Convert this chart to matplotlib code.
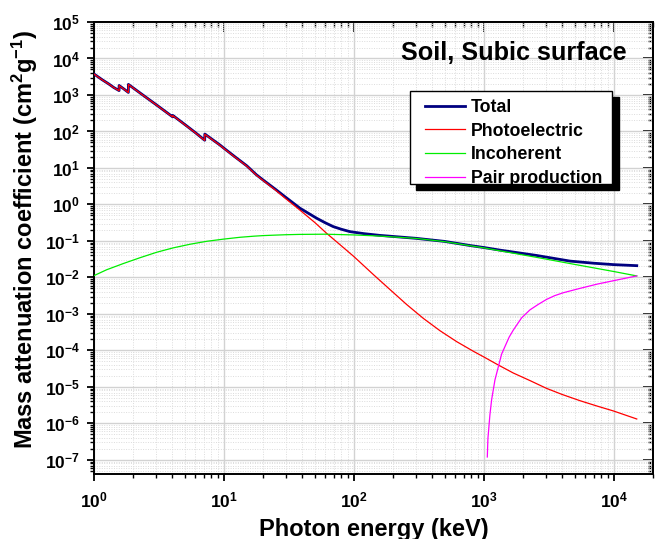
import numpy as np
import matplotlib
matplotlib.use('Agg')
import matplotlib.pyplot as plt
from matplotlib.patches import Rectangle
from matplotlib.ticker import LogLocator, NullFormatter

# ---------------- data ----------------
energy_total = [1.0, 1.15, 1.30, 1.42, 1.559, 1.560, 1.70, 1.838, 1.839, 2.2, 2.6, 3.0,
                3.5, 4.03, 4.04, 5.0, 6.0, 7.11, 7.12, 8.0, 9.3, 10, 12, 15, 17.8, 20,
                25, 30, 38.4, 51.6, 60, 69.3, 80, 93, 120, 158, 300, 500, 780, 1000,
                1327, 2540, 4600, 7000, 10000, 15000]
total = [3760, 2650, 2000, 1600, 1320, 1820, 1455, 1175, 1950, 1220, 790, 546,
         364, 251, 275, 155, 94, 57.5, 85, 63, 42.7, 34.7, 20.9, 11.4, 6.46, 4.68,
         2.57, 1.55, 0.79, 0.42, 0.316, 0.247, 0.209, 0.18, 0.158, 0.142, 0.118, 0.097,
         0.075, 0.066, 0.056, 0.040, 0.028, 0.0245, 0.0224, 0.021]

energy_photo = [1.0, 1.15, 1.30, 1.42, 1.559, 1.560, 1.70, 1.838, 1.839, 2.2, 2.6, 3.0,
                3.5, 4.03, 4.04, 5.0, 6.0, 7.11, 7.12, 8.0, 9.3, 10, 12, 15, 17.8, 20,
                25, 30, 38.4, 50, 61.6, 78, 100, 141, 189, 254, 341, 459, 617, 828,
                1000, 1290, 1683, 2270, 3035, 4000, 5470, 7500, 9880, 15000]
photo = [3740, 2630, 1990, 1590, 1310, 1810, 1445, 1165, 1940, 1210, 785, 542,
         361, 249, 273, 153, 93, 56.8, 84, 62, 42, 34, 20.5, 11.2, 6.3, 4.55,
         2.45, 1.42, 0.70, 0.32, 0.162, 0.0794, 0.0372, 0.0120, 4.68e-3, 1.82e-3,
         7.6e-4, 3.47e-4, 1.74e-4, 9.5e-5, 6.6e-5, 3.98e-5, 2.4e-5, 1.48e-5, 9.1e-6,
         6.2e-6, 4.2e-6, 2.95e-6, 2.2e-6, 1.32e-6]

energy_incoh = [1.0, 1.25, 1.68, 2.26, 3.04, 4.07, 5.5, 7.36, 9.9, 13.3, 17, 20, 25, 30,
                38, 60, 100, 158, 300, 500, 780, 1000, 1327, 2540, 4600, 10000, 15000]
incoh = [0.0112, 0.0162, 0.024, 0.0347, 0.049, 0.0646, 0.0813, 0.0977, 0.112, 0.126,
         0.135, 0.140, 0.1445, 0.148, 0.151, 0.153, 0.146, 0.136, 0.1175, 0.0955,
         0.0741, 0.0646, 0.0537, 0.0355, 0.024, 0.0145, 0.011]

energy_pair = [1062, 1074, 1112, 1146, 1216, 1368, 1563, 1683, 1950, 2260, 2617, 3035,
               3500, 4075, 5470, 7500, 9880, 15000]
pair = [1.2e-7, 3.9e-7, 1.7e-6, 4.4e-6, 1.55e-5, 7.9e-5, 2.3e-4, 3.6e-4, 7.8e-4,
        1.29e-3, 1.82e-3, 2.5e-3, 3.16e-3, 3.8e-3, 5.0e-3, 6.6e-3, 8.1e-3, 1.1e-2]

series_labels = ['Total', 'Photoelectric', 'Incoherent', 'Pair production']

# ---------------- style ----------------
plt.rcParams['font.family'] = ['Liberation Sans', 'DejaVu Sans']
plt.rcParams['font.weight'] = 'bold'
plt.rcParams['axes.labelweight'] = 'bold'
plt.rcParams['mathtext.fontset'] = 'custom'
plt.rcParams['mathtext.rm'] = 'Liberation Sans:bold'
plt.rcParams['mathtext.it'] = 'Liberation Sans:bold'
plt.rcParams['mathtext.bf'] = 'Liberation Sans:bold'
plt.rcParams['axes.unicode_minus'] = True

fig = plt.figure(figsize=(6.56, 5.39), dpi=100)
ax = fig.add_axes([94 / 656, 1 - 474 / 539, (653 - 94) / 656, (474 - 22) / 539])

ax.plot(energy_total, total, color='#000080', lw=2.0, label=series_labels[0], zorder=3)
ax.plot(energy_photo, photo, color='#ff0000', lw=0.9, label=series_labels[1], zorder=4)
ax.plot(energy_incoh, incoh, color='#00ee00', lw=0.9, label=series_labels[2], zorder=4)
ax.plot(energy_pair, pair, color='#ff00ff', lw=0.9, label=series_labels[3], zorder=4)

ax.set_xscale('log')
ax.set_yscale('log')
ax.set_xlim(1, 2e4)
ax.set_ylim(4.1e-8, 1e5)

ax.xaxis.set_major_locator(LogLocator(base=10, numticks=20))
ax.xaxis.set_minor_locator(LogLocator(base=10, subs=np.arange(2, 10), numticks=200))
ax.yaxis.set_major_locator(LogLocator(base=10, numticks=20))
ax.yaxis.set_minor_locator(LogLocator(base=10, subs=np.arange(2, 10), numticks=200))
ax.xaxis.set_minor_formatter(NullFormatter())
ax.yaxis.set_minor_formatter(NullFormatter())

ax.set_axisbelow(True)
ax.grid(which='major', color='#d2d2d2', lw=1.0, ls='-')
ax.grid(which='minor', color='#dcdcdc', lw=0.7, ls=(0, (1, 1.5)))

for s in ax.spines.values():
    s.set_linewidth(1.4)
    s.set_color('black')

ax.tick_params(which='major', direction='out', length=5, width=1.3, labelsize=12.5, pad=5)
ax.tick_params(which='minor', direction='out', length=3, width=1.0)
ax.tick_params(axis='x', which='major', pad=7)

# mirrored inward ticks on top and right
top = ax.secondary_xaxis('top')
right = ax.secondary_yaxis('right')
for sec, axis in ((top, top.xaxis), (right, right.yaxis)):
    axis.set_major_locator(LogLocator(base=10, numticks=20))
    axis.set_minor_locator(LogLocator(base=10, subs=np.arange(2, 10), numticks=200))
    axis.set_major_formatter(NullFormatter())
    axis.set_minor_formatter(NullFormatter())
    sec.tick_params(which='major', direction='in', length=7, width=1.3)
    sec.tick_params(which='minor', direction='in', length=3.5, width=1.0)
    for s in sec.spines.values():
        s.set_linewidth(1.4)

ax.set_xlabel('Photon energy (keV)', fontsize=17, fontweight='bold', labelpad=5)
ax.set_ylabel('Mass attenuation coefficient (cm$^{2}$g$^{-1}$)', fontsize=17,
              fontweight='bold')
ax.yaxis.set_label_coords(-0.097, 0.518)

ax.text(0.953, 0.932, 'Soil, Subic surface', transform=ax.transAxes, ha='right',
        va='center', fontsize=18.2, fontweight='bold', zorder=7)

# legend with a square frame and a solid black drop shadow
fx0, fy0, fw, fh = 0.5653, 0.6416, 0.3614, 0.2058
ax.add_patch(Rectangle((fx0 + 0.0116, fy0 - 0.0133), fw, fh, transform=ax.transAxes,
                       facecolor='black', edgecolor='black', lw=1.0, zorder=5.5,
                       clip_on=False))
ax.add_patch(Rectangle((fx0, fy0), fw, fh, transform=ax.transAxes,
                       facecolor='white', edgecolor='black', lw=1.0, zorder=5.6,
                       clip_on=False))
leg = ax.legend(loc='upper left', bbox_to_anchor=(0.592, 0.830), borderaxespad=0,
                frameon=False, handlelength=2.25, handletextpad=0.35,
                labelspacing=0.38, borderpad=0.0,
                prop={'weight': 'bold', 'size': 12.8})
leg.set_zorder(6)

fig.savefig('out.png', dpi=100)
